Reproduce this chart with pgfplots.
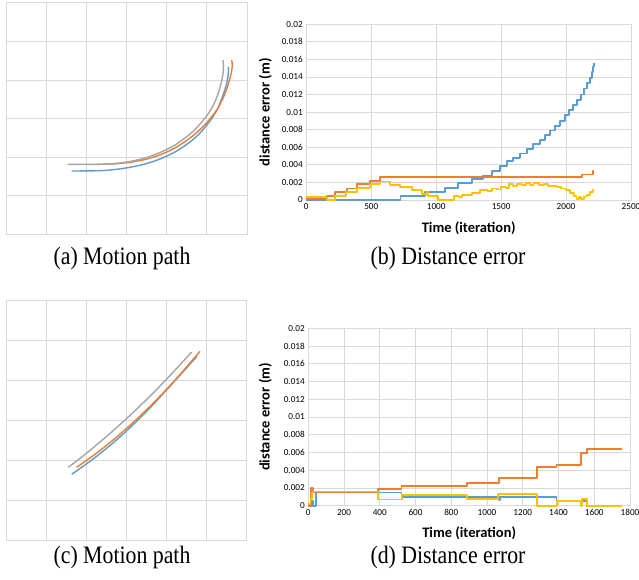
\documentclass[border=0pt]{standalone}
\usepackage{pgfplots}
\pgfplotsset{compat=1.18}
\usepackage{fontspec}
\setmainfont{Liberation Serif}
\newfontfamily\capfont{Liberation Serif}
\newfontfamily\carl{Carlito}
\definecolor{gridc}{RGB}{217,217,217}
\definecolor{xblue}{RGB}{91,155,213}
\definecolor{xorange}{RGB}{237,125,49}
\definecolor{xgray}{RGB}{165,165,165}
\definecolor{xyellow}{RGB}{255,192,0}
\tikzset{lbf/.style={font=\carl\bfseries\fontsize{14.5}{14.5}\selectfont}}
\pgfplotsset{
  pathax/.style={scale only axis, xmin=0,xmax=6,ymin=0,ymax=6,
    xtick={0,...,6}, ytick={0,...,6}, xticklabels={}, yticklabels={},
    grid=major, major grid style={gridc,line width=0.8pt},
    axis line style={gridc,line width=0.8pt}, tick style={draw=none}},
  errax/.style={scale only axis, ymin=0,ymax=0.02, scaled y ticks=false, scaled x ticks=false,
    ytick={0,0.002,0.004,0.006,0.008,0.01,0.012,0.014,0.016,0.018,0.02},
    yticklabels={0,0.002,0.004,0.006,0.008,0.01,0.012,0.014,0.016,0.018,0.02},
    grid=major, major grid style={gridc,line width=0.8pt},
    axis line style={gridc,line width=0.8pt}, tick style={draw=none},
    tick label style={font=\carl\fontsize{9.2}{9.2}\selectfont},
    xlabel={Time (iteration)}, ylabel={distance error (m)},
    clip=false},
  ln/.style={line width=1.8pt, const plot, line join=round},
  pl/.style={line width=1.4pt, smooth, tension=0.5}
}
\begin{document}
\begin{tikzpicture}
\path[use as bounding box] (0pt,0pt) rectangle (639pt,-580pt);
% (a) motion path
\begin{axis}[pathax, width=241pt, height=231.6pt, at={(6pt,-234.3pt)}, anchor=south west]
\addplot[xblue, pl] coordinates {(1.636,1.640)(2.340,1.648)(2.713,1.679)(3.087,1.736)(3.460,1.821)(3.834,1.951)(4.207,2.132)(4.581,2.391)(4.830,2.624)(5.078,2.935)(5.253,3.220)(5.377,3.531)(5.477,3.842)(5.527,4.101)(5.536,4.334)};
\addplot[xorange, pl] coordinates {(2.265,1.813)(2.713,1.826)(3.087,1.865)(3.460,1.938)(3.834,2.060)(4.207,2.236)(4.581,2.495)(4.830,2.715)(5.078,2.987)(5.277,3.272)(5.427,3.583)(5.526,3.868)(5.601,4.153)(5.634,4.360)(5.619,4.516)};
\addplot[xgray, pl] coordinates {(1.543,1.813)(2.340,1.813)(2.713,1.834)(3.087,1.886)(3.460,1.977)(3.834,2.119)(4.207,2.313)(4.581,2.598)(4.830,2.857)(5.029,3.116)(5.178,3.376)(5.277,3.635)(5.352,3.894)(5.402,4.153)(5.415,4.360)(5.402,4.516)};
\end{axis}
% (c) motion path
\begin{axis}[pathax, width=240.3pt, height=240pt, at={(6pt,-540pt)}, anchor=south west]
\addplot[xblue, pl] coordinates {(1.640,1.643)(2.140,1.998)(2.639,2.398)(3.139,2.848)(3.638,3.348)(4.137,3.893)(4.762,4.583)};
\addplot[xorange, pl] coordinates {(1.765,1.818)(2.265,2.175)(2.764,2.575)(3.263,3.020)(3.763,3.510)(4.262,4.043)(4.844,4.718)};
\addplot[xgray, pl] coordinates {(1.556,1.818)(2.047,2.200)(2.547,2.620)(3.046,3.070)(3.546,3.548)(4.045,4.058)(4.637,4.699)};
\end{axis}
% (b) distance error
\begin{axis}[errax, width=324.7pt, height=175.7pt, at={(306.3pt,-200pt)}, anchor=south west,
  xmin=0,xmax=2500, xtick={0,500,1000,1500,2000,2500}, xticklabels={0,500,1000,1500,2000,2500},
  every axis y label/.style={at={(axis description cs:0,0.5)}, xshift=-41pt, rotate=90, anchor=center, lbf},
  every axis x label/.style={at={(axis description cs:0.5,0)}, yshift=-28pt, anchor=center, lbf}]
\addplot[xblue, ln] coordinates {(0,0)(726,0.0005)(914,0.0009)(1068,0.0014)(1171,0.0019)(1273,0.0024)(1358,0.0028)(1427,0.0033)(1492,0.0039)(1543,0.0044)(1594,0.0048)(1646,0.0053)(1697,0.0058)(1748,0.0064)(1800,0.0068)(1838,0.0074)(1877,0.0079)(1915,0.0084)(1954,0.0090)(1992,0.0097)(2025,0.0102)(2056,0.0108)(2087,0.0114)(2115,0.0120)(2141,0.0127)(2164,0.0133)(2185,0.0139)(2200,0.0146)(2208,0.0152)(2212,0.0156)};
\addplot[xorange, ln] coordinates {(0,0.0002)(157,0.00045)(221,0.00087)(311,0.0013)(388,0.0018)(490,0.0022)(567,0.0026)(2120,0.0029)(2205,0.0033)(2212,0.0033)};
\addplot[xyellow, ln] coordinates {(0,0.0003)(157,0)(221,0.00045)(303,0.00095)(388,0.0014)(490,0.0018)(567,0.0021)(644,0.0017)(721,0.0015)(811,0.0011)(888,0.0007)(927,0.0009)(940,0.0005)(1016,0)(1137,0.0005)(1176,0.0003)(1201,0.0006)(1273,0.0008)(1337,0.0011)(1395,0.0010)(1430,0.0013)(1470,0.0012)(1500,0.0015)(1540,0.0014)(1560,0.0018)(1590,0.0016)(1620,0.0018)(1660,0.0017)(1690,0.0019)(1720,0.0017)(1750,0.0019)(1790,0.0017)(1830,0.0018)(1860,0.0016)(1900,0.0016)(1930,0.0015)(1960,0.0013)(2000,0.0011)(2030,0.0008)(2060,0.0005)(2080,0.0001)(2100,0.0003)(2115,0.0001)(2135,0.0004)(2160,0.0006)(2185,0.0009)(2205,0.0012)(2212,0.0012)};
\end{axis}
% (d) distance error
\begin{axis}[errax, width=321.7pt, height=177.4pt, at={(308.3pt,-505.7pt)}, anchor=south west,
  xmin=0,xmax=1800, xtick={0,200,...,1800}, xticklabels={0,200,400,600,800,1000,1200,1400,1600,1800},
  every axis y label/.style={at={(axis description cs:0,0.5)}, xshift=-43pt, rotate=90, anchor=center, lbf},
  every axis x label/.style={at={(axis description cs:0.5,0)}, yshift=-27.5pt, anchor=center, lbf}]
\addplot[xblue, ln] coordinates {(0,0)(20,0.0005)(28,0)(41,0.0015)(522,0.001)(1067,0.0006)(1072,0.001)(1389,0.0005)(1557,0)(1560,0)};
\addplot[xorange, ln] coordinates {(0,0)(15,0.002)(25,0.0015)(392,0.0019)(522,0.0022)(886,0.0026)(1067,0.0031)(1281,0.0044)(1389,0.0046)(1526,0.0059)(1561,0.0064)(1753,0.0064)};
\addplot[xyellow, ln] coordinates {(0,0.0002)(12,0.0008)(20,0.0015)(28,0.0016)(392,0.0007)(526,0.0012)(886,0.0008)(1063,0.0013)(1281,0)(1393,0.0005)(1524,0)(1533,0.0008)(1561,0)(1753,0)};
\end{axis}
% captions
\node[anchor=base] at (122pt,-264pt) {\capfont\fontsize{21.8}{22}\selectfont\scalebox{1}[1.15]{(a) Motion path}};
\node[anchor=base] at (448pt,-264pt) {\capfont\fontsize{21.8}{22}\selectfont\scalebox{1}[1.15]{(b) Distance error}};
\node[anchor=base] at (122pt,-563pt) {\capfont\fontsize{21.8}{22}\selectfont\scalebox{1}[1.15]{(c) Motion path}};
\node[anchor=base] at (448pt,-563pt) {\capfont\fontsize{21.8}{22}\selectfont\scalebox{1}[1.15]{(d) Distance error}};
\end{tikzpicture}
\end{document}
